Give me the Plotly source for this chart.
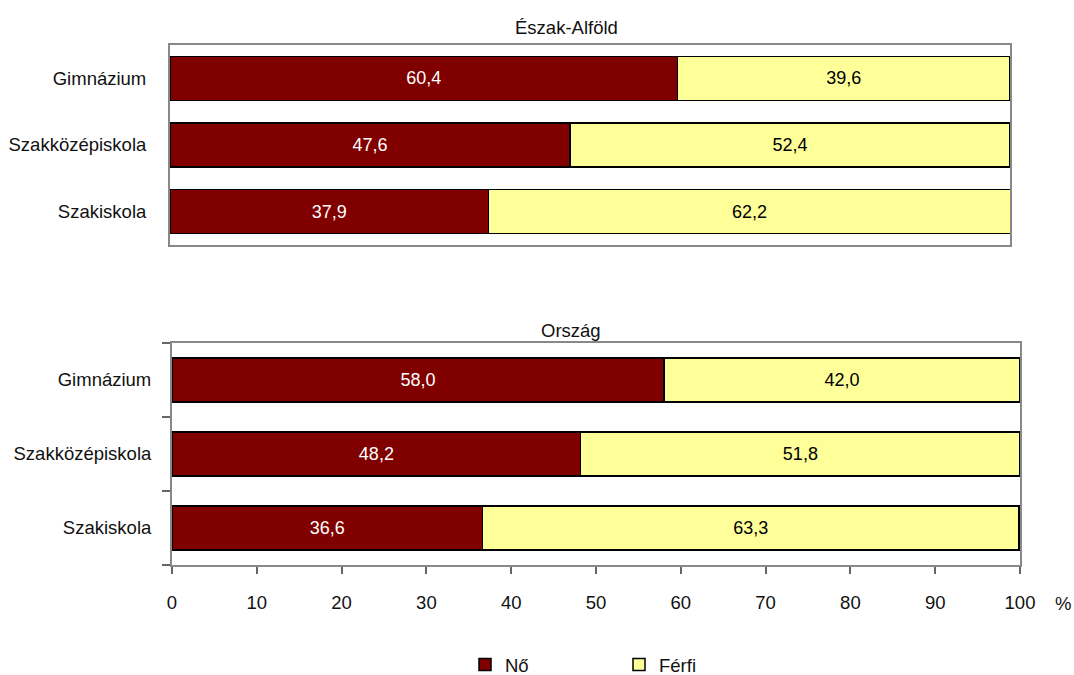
import plotly.graph_objects as go

categories = ["Gimnázium", "Szakközépiskola", "Szakiskola"]
eszak_no = [60.4, 47.6, 37.9]
eszak_ferfi = [39.6, 52.4, 62.2]
orszag_no = [58.0, 48.2, 36.6]
orszag_ferfi = [42.0, 51.8, 63.3]
x_ticks = [0, 10, 20, 30, 40, 50, 60, 70, 80, 90, 100]
series_names = ["Nő", "Férfi"]
titles = ["Észak-Alföld", "Ország"]

RED = "#800000"
YEL = "#FFFF99"
W, H = 1074, 675
FONT = "Liberation Sans, Arial, sans-serif"
TXT = "#111111"
FS = 18.5

fig = go.Figure()

def add_bars(vals, name, color, tcolor, xa, ya, show, bw):
    fig.add_trace(go.Bar(
        y=categories, x=vals, orientation="h", name=name, width=bw,
        marker=dict(color=color, line=dict(color="black", width=1.5)),
        texttemplate="%{x:.1f}", textposition="inside",
        insidetextanchor="middle",
        textfont=dict(color=tcolor, size=18, family=FONT),
        xaxis=xa, yaxis=ya, showlegend=show, legendgroup=name,
    ))

add_bars(eszak_no, series_names[0], RED, "white", "x", "y", True, 0.66)
add_bars(eszak_ferfi, series_names[1], YEL, "black", "x", "y", True, 0.66)
add_bars(orszag_no, series_names[0], RED, "white", "x2", "y2", False, 0.595)
add_bars(orszag_ferfi, series_names[1], YEL, "black", "x2", "y2", False, 0.595)

def px(v): return v / W
def py(v): return 1 - v / H

def label(text, x, y):
    return dict(text=text, x=px(x), y=py(y), xref="paper", yref="paper",
                xanchor="center", yanchor="middle", showarrow=False,
                font=dict(size=FS, color=TXT))

fig.update_layout(
    width=W, height=H, autosize=False, barmode="stack",
    separators=", ",
    margin=dict(l=0, r=0, t=0, b=0, pad=0, autoexpand=False),
    paper_bgcolor="white", plot_bgcolor="white",
    font=dict(family=FONT, size=FS, color=TXT),
    xaxis=dict(domain=[px(170), px(1010)], range=[0, 100], showticklabels=False,
               showgrid=False, zeroline=False, showline=True, linecolor="#888",
               linewidth=2, mirror=True, anchor="y", automargin=False),
    yaxis=dict(domain=[py(245), py(45)], categoryorder="array",
               categoryarray=categories[::-1], showgrid=False, zeroline=False,
               showline=True, linecolor="#888", linewidth=2, mirror=True,
               ticks="", ticklabelstandoff=18, anchor="x", automargin=False,
               tickfont=dict(size=FS, color=TXT)),
    xaxis2=dict(domain=[px(172), px(1020)], range=[0, 100], tickvals=x_ticks,
                showgrid=False, zeroline=False, showline=True, linecolor="#888",
                linewidth=2, mirror=True, ticks="outside", ticklen=7,
                tickcolor="#666", tickwidth=1.5, anchor="y2", automargin=False,
                tickfont=dict(size=FS, color=TXT), ticklabelstandoff=13),
    yaxis2=dict(domain=[py(565), py(343)], categoryorder="array",
                categoryarray=categories[::-1], showgrid=False, zeroline=False,
                showline=True, linecolor="#888", linewidth=2, mirror=True,
                ticks="outside", ticklen=8, tickcolor="#666", tickwidth=1.5,
                tickson="boundaries", anchor="x2", ticklabelstandoff=15,
                automargin=False, tickfont=dict(size=FS, color=TXT)),
    legend=dict(orientation="h", x=px(465), xanchor="left", y=py(665),
                yanchor="middle", entrywidth=109, traceorder="normal",
                font=dict(size=FS, color=TXT)),
    annotations=[
        label(titles[0], 566, 28),
        label(titles[1], 571, 330),
        label("%", 1063, 603),
    ],
)

fig.write_html("out.html", config={"displayModeBar": False},
               post_script="document.body.style.margin='0';document.body.style.overflow='hidden';")
